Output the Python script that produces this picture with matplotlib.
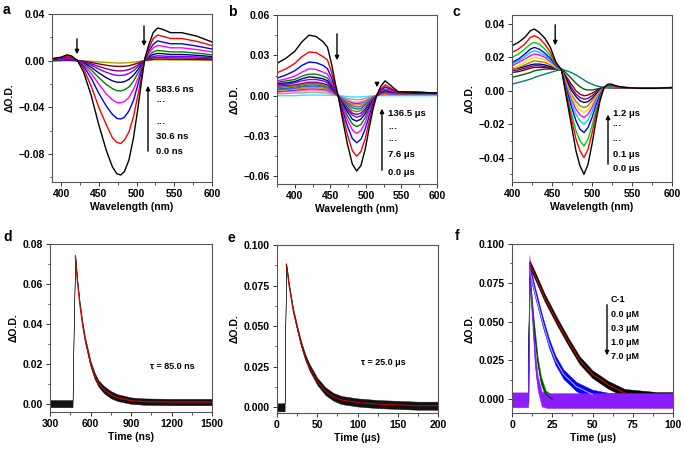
import numpy as np
import matplotlib.pyplot as plt
from matplotlib.ticker import MultipleLocator, FuncFormatter

plt.rcParams['font.family'] = ['Liberation Sans', 'DejaVu Sans']
plt.rcParams['font.weight'] = 'bold'
plt.rcParams['axes.labelweight'] = 'bold'

# spectra values in mOD (delta O.D. x 1000)

# ---------------- panel a : spectra (ns) ----------------
wl_a = [390, 400, 408, 414, 422, 430, 440, 450, 460, 468, 474, 479, 484, 490, 496, 502, 507, 511,
        516, 522, 528, 534, 545, 560, 580, 600]
spec_a = [
    [2, 3, 5, 4, 0, -10, -30, -55, -77, -91, -97, -98, -95, -85, -66, -40, -16, 2, 13, 24, 28, 27, 24, 24, 21, 16],
    [1.5, 2.5, 4, 3, 0, -7, -22, -40, -55, -66, -70, -71, -68, -61, -48, -29, -12, 1.5, 10, 19, 22, 21, 19, 19, 16.5, 13],
    [1, 2, 3, 2.5, 0, -5, -15, -28, -39, -46, -49.5, -50, -48.5, -43, -34, -20, -8, 1, 8, 14, 17, 16, 14.5, 14.5, 12.5, 10],
    [1, 1.5, 2.5, 2, 0, -3.7, -11, -20, -28.5, -33.5, -36, -36, -35, -31.5, -24.5, -15, -6, 1, 6, 11, 13, 12.5, 11, 11, 9.5, 7.5],
    [0.5, 1, 2, 1.5, 0, -2.6, -8, -14.5, -20.5, -24, -25.7, -26, -25, -22.5, -17.5, -10.5, -4.2, 0.5, 4, 7.5, 8.7, 8.4, 7.5, 7.5, 6.5, 5],
    [0.5, 1, 1.5, 1, 0, -1.9, -5.7, -10.5, -14.6, -17.3, -18.4, -18.6, -18, -16, -12.5, -7.6, -3, 0.5, 3, 5.3, 6.2, 6, 5.3, 5.3, 4.6, 3.5],
    [0.3, 0.5, 1, 0.8, 0, -1.3, -3.9, -7.2, -10, -11.8, -12.6, -12.7, -12.3, -11, -8.6, -5.2, -2, 0.3, 2, 3.6, 4.2, 4, 3.6, 3.6, 3.2, 2.4],
    [0.2, 0.3, 0.5, 0.4, 0, -0.9, -2.7, -5, -6.9, -8.2, -8.7, -8.8, -8.5, -7.6, -6, -3.6, -1.4, 0.2, 1.3, 2.4, 2.8, 2.7, 2.4, 2.4, 2.1, 1.6],
    [0, 0.2, 0.3, 0.2, 0, -0.5, -1.5, -2.8, -3.9, -4.6, -4.9, -4.9, -4.8, -4.3, -3.3, -2, -0.8, 0.1, 0.7, 1.2, 1.4, 1.4, 1.2, 1.2, 1.1, 0.8],
    [0, 0, 0.1, 0.1, 0, -0.2, -0.6, -1.1, -1.5, -1.8, -2, -2, -1.9, -1.7, -1.3, -0.8, -0.3, 0, 0.3, 0.6, 0.7, 0.7, 0.6, 0.6, 0.5, 0.4],
]
colors_a = ['#000000', '#ff0000', '#0000ff', '#ff00ff', '#008000', '#000080',
            '#8000ff', '#800080', '#800000', '#b0a000']
labels_a = ['583.6 ns', '\u00b7\u00b7\u00b7', '\u00b7\u00b7\u00b7', '30.6 ns', '0.0 ns']

# ---------------- panel b : spectra (us) ----------------
wl_b = [375, 388, 400, 410, 420, 430, 440, 446, 452, 457, 461, 467, 474, 481, 487, 493, 499, 505, 510,
        515, 521, 527, 534, 545, 570, 600]
spec_b = [
    [24, 28, 33, 40, 45, 44, 40, 36, 23, 9, 0, -17, -36, -51, -56, -52, -40, -23, -10, 0, 7, 11, 8, 3, 2.5, 2],
    [17, 20, 24, 29, 32.5, 32, 29, 26.5, 17, 6.5, 0, -13.5, -29, -41, -45, -41.5, -32, -18.5, -8, 0, 5, 8, 6, 2.5, 2.5, 2],
    [13, 15.5, 18.5, 22.5, 25, 24.5, 22.5, 20, 13, 5, 0, -10.5, -22.5, -32, -35, -32.5, -25, -14.5, -6, 0, 4, 6.5, 5, 2.5, 2.5, 2],
    [11, 12.5, 14.5, 17.5, 20, 19.5, 17.5, 16, 10, 4, 0, -8.5, -18, -25.5, -28, -26, -20, -11.5, -5, 0, 3.5, 5, 4, 2.5, 2.5, 2],
    [10, 11, 12, 14.5, 16, 16, 14.5, 13, 8.5, 3, 0, -7, -15, -21, -23, -21.5, -16.5, -9.5, -4, 0, 3, 4.5, 3.5, 2.5, 2.5, 2],
    [9, 9.5, 10.5, 12.5, 14, 13.5, 12.5, 11, 7, 2.5, 0, -6, -12, -17.5, -19, -17.5, -13.5, -8, -3.5, 0, 2.5, 4, 3, 2.5, 2, 2],
    [8, 8.5, 9.5, 11, 12, 12, 11, 9.5, 6, 2, 0, -5, -10.5, -14.5, -16, -15, -11.5, -6.5, -3, 0, 2, 3.5, 3, 2, 2, 2],
    [7, 7.5, 8, 9, 10, 10, 9, 8, 5, 2, 0, -4.5, -9, -13, -14, -13, -10, -5.5, -2.5, 0, 2, 3, 2.5, 2, 2, 2],
    [6, 6.5, 7, 8, 9, 9, 8, 7, 4.5, 1.5, 0, -3.5, -7.5, -11, -12, -11, -8.5, -5, -2, 0, 1.5, 2.5, 2, 2, 2, 2],
    [5, 5.5, 6.5, 7, 8, 8, 7, 6.5, 4, 1.5, 0, -3, -6.5, -9, -10, -9.5, -7, -4, -2, 0, 1.5, 2, 2, 1.5, 1.5, 1.5],
    [4.5, 5, 5.5, 6.5, 7, 7, 6.5, 5.5, 3.5, 1.5, 0, -2.5, -5.5, -7.5, -8.5, -8, -6, -3.5, -1.5, 0, 1.5, 2, 1.5, 1.5, 1.5, 1.5],
    [4, 4.5, 5, 5.5, 6, 6, 5.5, 5, 3, 1, 0, -2, -4.5, -6.5, -7, -6.5, -5, -3, -1.5, 0, 1, 1.5, 1.5, 1.5, 1.5, 1.5],
    [3, 3.5, 4, 4.5, 5, 5, 4.5, 4, 2.5, 1, 0, -2, -4, -5.5, -6, -5.5, -4.5, -2.5, -1, 0, 1, 1.5, 1, 1, 1, 1],
    [2.5, 3, 3, 3.5, 4, 4, 3.5, 3, 2, 0.5, 0, -1.5, -3, -4.5, -5, -4.5, -3.5, -2, -1, 0, 1, 1, 1, 1, 1, 1],
    [1.5, 1.5, 2, 2, 2.5, 2.5, 2, 2, 1, 0.5, 0, -1, -2, -2.7, -3, -2.8, -2.2, -1.2, -0.5, 0, 0.5, 0.5, 0.5, 0.5, 0.5, 0.5],
    [0, 0, 0, 0.3, 0.5, 0.5, 0.4, 0.3, 0.2, 0.1, 0, -0.3, -0.6, -0.9, -1, -0.9, -0.7, -0.4, -0.2, 0, 0, 0, 0, 0, 0, 0],
]
colors_b = ['#000000', '#ff0000', '#0000ff', '#ff00ff', '#008000', '#000080',
            '#8000ff', '#800080', '#808000', '#008080', '#4169e1', '#ff8000',
            '#8a2be2', '#ff80c0', '#a0a0a0', '#40e0f0']
labels_b = ['136.5 \u03bcs', '\u00b7\u00b7\u00b7', '\u00b7\u00b7\u00b7', '7.6 \u03bcs', '0.0 \u03bcs']

# ---------------- panel c : spectra (us) ----------------
wl_c = [400, 408, 416, 423, 428, 434, 441, 448, 455, 462, 468, 474, 480, 485, 490, 495, 500, 505, 510,
        515, 520, 524, 530, 540, 560, 580, 600]
spec_c = [
    [27, 29, 32, 36, 37, 35, 31.5, 26, 17, 12.5, -4, -20, -36, -45, -50, -44, -32, -18, -6, 2, 4, 4, 3, 2, 1.5, 1.5, 2],
    [23, 25, 28, 32, 33, 31.5, 28, 23, 16, 12.5, -2, -16, -29, -36, -40, -35, -25.5, -14, -4.5, 2, 3.5, 3.5, 2.5, 2, 1.5, 1.5, 2],
    [20, 22, 25, 28, 29, 28, 25, 21, 15.5, 12.5, -1, -13, -24, -30, -33, -29, -21, -11.5, -3.5, 2, 3, 3, 2.5, 2, 1.5, 1.5, 2],
    [17, 19, 22, 25, 26, 25, 22.5, 19.5, 15, 12.5, 1, -9, -18, -23, -25, -22, -16, -8.5, -2.5, 2, 3, 3, 2.5, 2, 1.5, 1.5, 1.8],
    [16, 18, 20.5, 23, 24, 23, 21, 18.5, 14.5, 12.5, 2, -7, -14, -18, -20, -17.5, -12.5, -6.5, -1.5, 2, 3, 3, 2.5, 2, 1.5, 1.5, 1.8],
    [15, 17, 19, 21, 22, 21.5, 20, 17.5, 14.5, 12.5, 3, -5, -11, -14.5, -16, -14, -10, -5, -1, 2, 2.5, 2.5, 2, 2, 1.5, 1.5, 1.8],
    [13.5, 15, 17, 19, 20, 19.5, 18.5, 16.5, 14, 12.5, 4, -3.5, -8.5, -11.5, -13, -11.5, -8, -4, -0.5, 2, 2.5, 2.5, 2, 2, 1.5, 1.5, 1.8],
    [12.5, 14, 15.5, 17, 18, 17.5, 17, 15.5, 13.5, 12.5, 5, -2, -6.5, -9, -10, -9, -6, -3, 0, 2, 2.5, 2.5, 2, 2, 1.5, 1.5, 1.6],
    [13, 13.5, 14.5, 15.5, 16, 16, 15.5, 14.5, 13.5, 12.5, 6.5, 0.5, -3.5, -6, -7, -6.5, -4.5, -2, 0.5, 2, 2.5, 2.5, 2, 2, 1.5, 1.5, 1.6],
    [12, 12.5, 13.5, 14.5, 15, 15, 14.5, 14, 13, 12.5, 7.5, 2, -2, -4, -5, -4.5, -3, -1, 1, 2, 2, 2, 2, 1.8, 1.5, 1.5, 1.6],
    [11, 11.5, 12.5, 13.5, 14, 14, 14, 13.5, 13, 12.5, 8.5, 4, 0, -2, -3, -2.5, -1.5, 0, 1.5, 2, 2, 2, 2, 1.8, 1.5, 1.5, 1.5],
    [8, 9, 10, 11, 12, 12.5, 13, 13, 13, 13, 10.5, 7.5, 4.5, 2.5, 1, 0.5, 0.5, 1, 1.5, 2, 2, 2, 1.8, 1.8, 1.5, 1.5, 1.5],
    [4, 5, 6, 7, 8, 9, 10, 11, 12, 13, 12, 11, 9.5, 8, 6.5, 5, 4, 3, 2.5, 2, 1.8, 1.8, 1.7, 1.6, 1.5, 1.5, 1.5],
]
colors_c = ['#000000', '#ff0000', '#00d000', '#0000ff', '#00d0ff', '#ff00ff',
            '#f0e000', '#a08000', '#000080', '#800080', '#800000', '#006000', '#008080']
labels_c = ['1.2 \u03bcs', '\u00b7\u00b7\u00b7', '\u00b7\u00b7\u00b7', '0.1 \u03bcs', '0.0 \u03bcs']

# ---------------- panel d : kinetic trace (ns) ----------------
t_d = [300, 400, 467, 476, 487, 500, 520, 540, 560, 580, 600, 630, 660, 700, 750, 800, 900, 1000, 1200, 1500]
od_d = [0.000, 0.000, 0.000, 0.040, 0.074, 0.063, 0.050, 0.040, 0.032, 0.026, 0.020, 0.014, 0.010,
        0.007, 0.0045, 0.003, 0.0015, 0.001, 0.0008, 0.0008]
noise_d = [0.0018, 0.0018, 0.0018, 0.0008, 0.0008, 0.0008, 0.0010, 0.0012, 0.0012, 0.0014, 0.0014,
           0.0016, 0.0016, 0.0018, 0.0018, 0.0017, 0.0016, 0.0016, 0.0016, 0.0016]

# ---------------- panel e : kinetic trace (us) ----------------
t_e = [0, 9.5, 10, 11.5, 15, 20, 25, 30, 35, 40, 50, 60, 70, 80, 100, 125, 150, 175, 200]
od_e = [0.000, 0.000, 0.040, 0.088, 0.075, 0.060, 0.049, 0.039, 0.031, 0.025, 0.016, 0.010,
        0.0065, 0.0045, 0.003, 0.002, 0.0015, 0.001, 0.001]
noise_e = [0.0025, 0.0025, 0.001, 0.001, 0.001, 0.0012, 0.0014, 0.0016, 0.0018, 0.0020, 0.0022,
           0.0024, 0.0024, 0.0025, 0.0025, 0.0025, 0.0025, 0.0025, 0.0025]

# ---------------- panel f : quenching traces (us) ----------------
t_f0 = [0, 9.8, 10.2, 11, 15, 20, 25, 28, 35, 42, 50, 60, 70, 80, 90, 100]
od_f0 = [0.000, 0.000, 0.045, 0.087, 0.078, 0.066, 0.056, 0.050, 0.037, 0.025, 0.016, 0.009,
         0.004, 0.003, 0.002, 0.002]
t_f1 = [10, 10.3, 11, 15, 19, 23, 27, 32, 40, 50, 60, 100]
od_f1 = [0.000, 0.040, 0.083, 0.066, 0.050, 0.036, 0.025, 0.016, 0.008, 0.003, 0.001, 0.000]
t_f2 = [10.2, 10.6, 11, 13.4, 15.9, 18, 21, 25, 100]
od_f2 = [0.000, 0.040, 0.078, 0.050, 0.025, 0.012, 0.003, 0.000, -0.001]
t_f3 = [0, 10, 10.4, 10.8, 12, 13, 14.4, 16, 18.5, 22, 100]
od_f3 = [-0.0005, -0.0005, 0.045, 0.088, 0.065, 0.050, 0.025, 0.010, 0.000, -0.001, -0.001]
noise_f = [0.0025, 0.003, 0.0025, 0.0048]
fit_end_f = [73, 50, 27, 18]
colors_f = ['#000000', '#0000ff', '#008000', '#8a1cff']
fitcol_f = ['#e00000', '#b8a0ff', '#004000', '#8a1cff']
labels_f = ['C-1', '0.0 \u03bcM', '0.3 \u03bcM', '1.0 \u03bcM', '7.0 \u03bcM']


def fmt(dec):
    return FuncFormatter(lambda v, p: ('%.*f' % (dec, v)).replace('-', '\u2212'))


def style(ax, xlim, ylim, xmaj, xmin, ymaj, ymin, dec, xlabel):
    ax.set_xlim(*xlim)
    ax.set_ylim(*ylim)
    ax.xaxis.set_major_locator(MultipleLocator(xmaj))
    ax.xaxis.set_minor_locator(MultipleLocator(xmin))
    ax.yaxis.set_major_locator(MultipleLocator(ymaj))
    ax.yaxis.set_minor_locator(MultipleLocator(ymin))
    ax.yaxis.set_major_formatter(fmt(dec))
    ax.tick_params(which='major', direction='out', length=3, width=0.7, labelsize=7.5, pad=2,
                   colors='#333333', labelcolor='black')
    ax.tick_params(which='minor', direction='out', length=1.8, width=0.6, colors='#333333')
    for s in ax.spines.values():
        s.set_color('#555555')
        s.set_linewidth(0.8)
    ax.set_xlabel(xlabel, fontsize=7.5, labelpad=2)
    ax.set_ylabel('\u0394O.D.', fontsize=7.5, labelpad=3)


def add_axes(fig, l, t, r, b):
    W, H = 684.0, 451.0
    return fig.add_axes([l / W, (H - b) / H, (r - l) / W, (b - t) / H])


def arrow(ax, x, y0, y1):
    ax.annotate('', xy=(x, y1), xytext=(x, y0), xycoords='axes fraction',
                arrowprops=dict(arrowstyle='-|>', color='black', lw=1.0, mutation_scale=6))


def stack_text(ax, x, ys, texts, size=6.8):
    for y, s in zip(ys, texts):
        ax.text(x, y, s, transform=ax.transAxes, fontsize=size, fontweight='bold',
                ha='left', va='center')


def spectra(ax, wl, rows, colors):
    # later (weaker) curves first so the black one ends on top
    for ys, c in zip(rows[::-1], colors[::-1]):
        ax.plot(wl, np.array(ys) / 1000.0, color=c, lw=1.0)


fig = plt.figure(figsize=(6.84, 4.51), dpi=100)

# panel a
ax = add_axes(fig, 52, 14, 212, 182)
spectra(ax, wl_a, spec_a, colors_a)
style(ax, (388, 600), (-0.104, 0.04), 50, 25, 0.04, 0.02, 2, 'Wavelength (nm)')
arrow(ax, 0.156, 0.869, 0.744)
arrow(ax, 0.575, 0.946, 0.792)
arrow(ax, 0.60, 0.167, 0.589)
stack_text(ax, 0.65, [0.548, 0.470, 0.339, 0.268, 0.179], labels_a)
fig.text(3 / 684, 1 - 10 / 451, 'a', fontsize=10, fontweight='bold', va='center')

# panel b
ax = add_axes(fig, 277, 15, 437, 184)
spectra(ax, wl_b, spec_b, colors_b)
style(ax, (375, 600), (-0.0657, 0.06), 50, 25, 0.03, 0.015, 2, 'Wavelength (nm)')
arrow(ax, 0.375, 0.905, 0.716)
arrow(ax, 0.625, 0.615, 0.556)
arrow(ax, 0.656, 0.065, 0.462)
stack_text(ax, 0.694, [0.42, 0.32, 0.25, 0.172, 0.071], labels_b)
fig.text(228 / 684, 1 - 12 / 451, 'b', fontsize=10, fontweight='bold', va='center')

# panel c
ax = add_axes(fig, 512, 15, 672, 182)
spectra(ax, wl_c, spec_c, colors_c)
style(ax, (400, 600), (-0.0546, 0.0454), 50, 25, 0.02, 0.01, 2, 'Wavelength (nm)')
arrow(ax, 0.27, 0.958, 0.802)
arrow(ax, 0.60, 0.09, 0.42)
stack_text(ax, 0.63, [0.413, 0.33, 0.24, 0.162, 0.078], labels_c)
fig.text(453 / 684, 1 - 12 / 451, 'c', fontsize=10, fontweight='bold', va='center')

# panel d
ax = add_axes(fig, 50, 244, 212, 412)
td, yd, nd = np.array(t_d), np.array(od_d), np.array(noise_d)
ax.fill_between(td, yd - nd, yd + nd, color='#111111', lw=0.3)
ax.plot(td[4:], yd[4:], color='#e00000', lw=0.8)
style(ax, (300, 1500), (-0.0042, 0.08), 300, 150, 0.02, 0.01, 2, 'Time (ns)')
ax.text(0.755, 0.27, '\u03c4 = 85.0 ns', transform=ax.transAxes, fontsize=6.5,
        fontweight='bold', ha='center', va='center')
fig.text(3 / 684, 1 - 237 / 451, 'd', fontsize=10, fontweight='bold', va='center')

# panel e
ax = add_axes(fig, 277, 245, 438, 413)
te, ye, ne = np.array(t_e), np.array(od_e), np.array(noise_e)
ax.fill_between(te, ye - ne, ye + ne, color='#111111', lw=0.3)
ax.plot(te[3:], ye[3:], color='#c00000', lw=0.8)
style(ax, (0, 200), (-0.0035, 0.1), 50, 25, 0.025, 0.0125, 3, 'Time (\u03bcs)')
ax.text(0.66, 0.30, '\u03c4 = 25.0 \u03bcs', transform=ax.transAxes, fontsize=6.5,
        fontweight='bold', ha='center', va='center')
fig.text(228 / 684, 1 - 238 / 451, 'e', fontsize=10, fontweight='bold', va='center')

# panel f
ax = add_axes(fig, 512, 244, 673, 413)
traces = [(t_f0, od_f0), (t_f1, od_f1), (t_f2, od_f2), (t_f3, od_f3)]
for (tt, yy), nz, c, fc, te_ in zip(traces, noise_f, colors_f, fitcol_f, fit_end_f):
    tt, yy = np.array(tt), np.array(yy)
    ax.fill_between(tt, yy - nz, yy + nz, color=c, lw=0.3)
    k = int(np.argmax(yy))
    m = tt <= te_
    m[:k] = False
    ax.plot(tt[m], yy[m], color=fc, lw=0.8)
style(ax, (0, 100), (-0.009, 0.1), 25, 12.5, 0.025, 0.0125, 3, 'Time (\u03bcs)')
arrow(ax, 0.59, 0.657, 0.325)
stack_text(ax, 0.615, [0.669, 0.58, 0.501, 0.416, 0.333], labels_f, size=6.5)
fig.text(455 / 684, 1 - 236 / 451, 'f', fontsize=10, fontweight='bold', va='center')

plt.savefig('out.png', dpi=100)
